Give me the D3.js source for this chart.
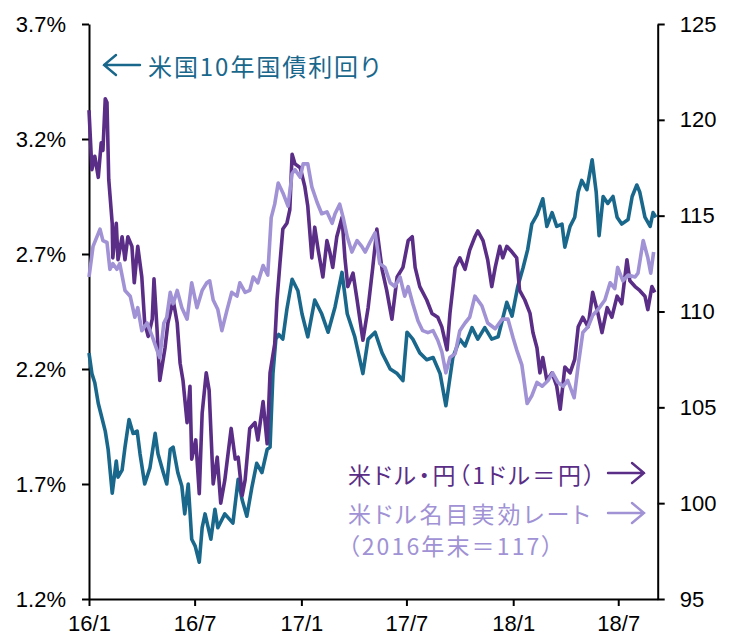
<!DOCTYPE html>
<html><head><meta charset="utf-8">
<script src="https://cdn.jsdelivr.net/npm/d3@7"></script>
<style>
body{margin:0;background:#fff;}
svg{display:block;}
.tick text{font-family:"Liberation Sans",Arial,sans-serif;font-size:22px;fill:#000;}
.jp{font-family:"Noto Sans CJK JP",sans-serif;font-feature-settings:"palt";}
</style></head><body>
<svg id="c" width="736" height="637"></svg>
<script>
// Dates are stored as days since this start date
const startDate = "2016-01-01";
const endDate = "2018-09-07";

// US 10-year Treasury yield (%), left axis
const yieldDays = [0,5,10,16,22,28,33,40,47,50,57,62,69,76,83,88,96,105,114,119,128,134,140,145,153,160,165,171,177,183,190,195,200,210,217,222,234,248,257,264,272,281,289,298,307,312,317,322,327,334,341,350,360,367,377,389,401,412,424,436,445,458,472,481,493,505,519,531,541,548,558,570,582,593,605,615,627,639,648,660,670,682,694,705,720,729,739,748,756,763,772,782,789,798,806,815,820,829,837,843,849,858,867,874,879,886,894,903,910,918,929,936,944,949,958,967,972,977];
const yieldValues = [2.27,2.18,2.14,2.05,1.99,1.93,1.85,1.66,1.80,1.73,1.76,1.86,1.98,1.92,1.93,1.83,1.70,1.77,1.92,1.83,1.75,1.70,1.85,1.86,1.75,1.69,1.57,1.70,1.46,1.43,1.36,1.51,1.57,1.46,1.59,1.51,1.57,1.53,1.72,1.63,1.56,1.69,1.79,1.75,1.85,1.86,2.18,2.33,2.35,2.33,2.46,2.59,2.54,2.44,2.34,2.50,2.44,2.36,2.47,2.62,2.44,2.34,2.18,2.33,2.36,2.27,2.20,2.18,2.15,2.36,2.33,2.27,2.24,2.25,2.18,2.04,2.25,2.33,2.30,2.38,2.33,2.38,2.33,2.34,2.49,2.43,2.56,2.64,2.72,2.83,2.87,2.94,2.82,2.88,2.82,2.83,2.73,2.82,2.86,2.97,3.02,2.98,3.11,2.97,2.78,2.95,2.92,2.95,2.86,2.83,2.85,2.95,3.00,2.97,2.86,2.82,2.88,2.86];

// USD/JPY (yen per dollar), right axis
const usdjpyDays = [0,5,10,16,21,24,28,31,34,40,41,47,50,57,62,67,74,78,84,91,96,102,109,112,117,122,131,136,145,152,157,162,169,174,177,184,190,195,202,207,214,221,227,234,245,252,257,264,269,277,286,291,300,307,312,320,324,329,334,341,346,350,355,364,372,377,384,389,395,403,410,415,420,427,436,441,446,455,462,472,481,489,496,505,513,522,531,541,550,557,562,570,582,591,601,608,617,622,631,639,648,656,665,670,679,687,694,700,708,713,720,729,737,742,751,760,765,772,777,782,789,798,806,812,820,829,837,843,851,860,868,877,884,893,901,910,918,927,932,941,949,958,963,970,975];
const usdjpyValues = [120.5,117.4,118.1,117.0,118.8,118.4,121.1,120.9,116.9,114.6,112.8,114.6,112.7,113.9,112.7,113.9,113.4,111.5,113.4,111.8,109.4,108.7,109.6,111.7,109.2,106.4,108.1,109.4,110.6,109.4,107.3,106.4,104.2,106.1,102.3,103.3,100.5,104.7,106.8,105.9,101.0,102.4,100.0,101.2,103.9,102.3,102.4,100.4,101.2,103.9,104.2,103.3,105.3,103.1,106.8,108.3,110.6,112.5,114.3,114.6,115.3,118.2,117.7,117.5,116.5,115.5,112.8,114.4,113.2,111.8,113.7,113.1,112.3,113.9,114.9,112.8,111.3,112.0,110.6,108.5,110.2,112.3,114.3,112.2,111.1,109.6,111.8,112.3,113.7,113.9,112.3,111.3,110.6,109.9,109.7,109.2,108.0,109.9,112.3,112.8,112.2,113.2,113.9,114.2,113.7,112.7,111.3,112.3,113.4,112.8,113.4,113.1,112.8,111.1,110.6,109.9,108.9,108.1,106.8,107.6,106.4,106.8,106.1,104.9,107.1,106.8,107.5,109.2,109.7,109.2,111.0,109.9,108.9,110.2,109.7,110.8,110.4,112.7,111.6,111.3,111.1,110.8,110.1,111.3,111.0];

// US dollar nominal effective rate (end-2016 = 117), right axis
const neerDays = [0,7,19,24,31,36,41,48,53,62,71,79,84,91,100,109,117,122,129,134,140,145,152,160,169,177,186,195,203,208,214,222,229,238,246,255,260,269,277,283,291,300,308,314,320,326,334,343,350,355,364,369,377,384,393,401,410,419,424,432,438,445,453,462,470,476,484,493,501,510,519,527,536,544,550,558,567,575,584,593,601,608,615,622,631,639,648,656,665,677,687,700,712,722,731,737,746,755,763,772,781,791,799,808,817,825,836,843,851,860,868,877,889,898,906,911,920,929,941,946,955,963,968,973];
const neerValues = [111.8,113.4,114.3,113.7,113.6,112.2,112.5,112.2,112.5,111.1,110.8,109.7,110.2,109.0,109.4,108.7,108.0,107.6,109.4,109.7,111.0,110.4,111.1,110.2,109.6,111.5,110.2,111.1,111.5,111.6,110.6,110.1,109.0,110.1,111.0,110.8,111.5,111.0,111.1,111.8,111.5,112.4,111.9,114.9,115.6,116.7,116.2,115.5,117.2,117.4,117.0,117.7,117.7,116.5,115.7,115.1,115.2,114.6,115.1,115.6,114.9,113.9,113.1,113.7,113.4,113.1,113.6,114.1,112.5,112.3,111.5,111.3,111.8,110.8,111.3,110.4,109.5,109.0,108.9,109.0,108.5,107.9,106.8,107.6,107.8,109.0,109.4,109.7,110.8,110.3,109.4,109.1,109.6,109.6,108.6,108.0,107.2,105.2,105.6,106.3,106.1,106.4,106.8,106.3,106.1,106.4,105.5,107.2,108.9,109.2,109.8,110.1,110.6,111.5,111.2,112.3,111.6,111.9,111.8,112.0,113.7,112.8,112.0,113.1];

// Axis ticks
const xTickDates = ["2016-01-01","2016-07-01","2017-01-01","2017-07-01","2018-01-01","2018-07-01"];
const xTickLabels = ["16/1","16/7","17/1","17/7","18/1","18/7"];
const leftTicks = [1.2,1.7,2.2,2.7,3.2,3.7];
const rightTicks = [95,100,105,110,115,120,125];

// Labels
const yieldLabel = "米国10年国債利回り";
const usdjpyLabel = "米ドル・円（1ドル＝円）";
const neerLabel1 = "米ドル名目実効レート";
const neerLabel2 = "（2016年末＝117）";

const colYield = "#1a678c", colJpy = "#5a2d86", colNeer = "#a092d4";

const parse = d3.timeParse("%Y-%m-%d");
const t0 = parse(startDate);
const toDate = d => d3.timeDay.offset(t0, d);

const svg = d3.select("#c");
const L = 89, R = 657.7, T = 24, B = 599;

const x = d3.scaleTime().domain([t0, parse(endDate)]).range([L, R]);
const yL = d3.scaleLinear().domain([1.2, 3.7]).range([B, T]);
const yR = d3.scaleLinear().domain([95, 125]).range([B, T]);

function series(days, vals){
  const n = Math.min(days.length, vals.length);
  return d3.range(n).map(i => ({date: toDate(days[i]), v: vals[i]}));
}

const gL = svg.append("g").attr("transform", `translate(${L},0)`)
  .call(d3.axisLeft(yL).tickValues(leftTicks).tickSize(7).tickSizeOuter(0).tickPadding(16)
    .tickFormat(d => d.toFixed(1) + "%"));
const gR = svg.append("g").attr("transform", `translate(${R},0)`)
  .call(d3.axisRight(yR).tickValues(rightTicks).tickSize(7).tickSizeOuter(0).tickPadding(15)
    .tickFormat(d3.format("d")));
const gB = svg.append("g").attr("transform", `translate(0,${B})`)
  .call(d3.axisBottom(x).tickValues(xTickDates.map(parse)).tickSize(7).tickSizeOuter(0).tickPadding(9)
    .tickFormat((d,i) => xTickLabels[i]));
[gL,gR,gB].forEach(g => {
  g.attr("font-family", null).attr("font-size", null);
  g.selectAll(".domain").attr("stroke", "#000").attr("stroke-width", 2);
  g.selectAll(".tick line").attr("stroke", "#000").attr("stroke-width", 2);
});

const lineL = d3.line().x(d => x(d.date)).y(d => yL(d.v));
const lineR = d3.line().x(d => x(d.date)).y(d => yR(d.v));

const plot = svg.append("g");
plot.append("path").datum(series(yieldDays, yieldValues)).attr("d", lineL)
  .attr("fill","none").attr("stroke", colYield).attr("stroke-width", 3.6).attr("stroke-linejoin","round");
plot.append("path").datum(series(usdjpyDays, usdjpyValues)).attr("d", lineR)
  .attr("fill","none").attr("stroke", colJpy).attr("stroke-width", 3.6).attr("stroke-linejoin","round");
plot.append("path").datum(series(neerDays, neerValues)).attr("d", lineR)
  .attr("fill","none").attr("stroke", colNeer).attr("stroke-width", 3.6).attr("stroke-linejoin","round");

// Annotations
const ann = svg.append("g").attr("class","jp");
function arrow(x0, x1, y, col){
  // x0 = tail, x1 = tip
  const dir = x1 > x0 ? 1 : -1;
  ann.append("path")
    .attr("d", `M${x0},${y}H${x1}M${x1 - dir*12},${y-10}L${x1},${y}L${x1 - dir*12},${y+10}`)
    .attr("fill","none").attr("stroke", col).attr("stroke-width", 2.4)
    .attr("stroke-linecap","round").attr("stroke-linejoin","miter");
}
function label(txt, x0, y, w, size, col){
  ann.append("text").text(txt).attr("x", x0).attr("y", y).attr("dominant-baseline","central")
    .attr("font-size", size).attr("fill", col)
    .attr("textLength", w).attr("lengthAdjust", "spacing");
}
arrow(140, 104, 65, colYield);
label(yieldLabel, 148, 65, 232, 24, colYield);
label(usdjpyLabel, 348, 474, 247, 23, colJpy);
arrow(608, 644, 473, colJpy);
label(neerLabel1, 348, 513, 242, 23, colNeer);
arrow(608, 644, 513, colNeer);
label(neerLabel2, 348, 545, 205, 23, colNeer);
</script>
</body></html>
